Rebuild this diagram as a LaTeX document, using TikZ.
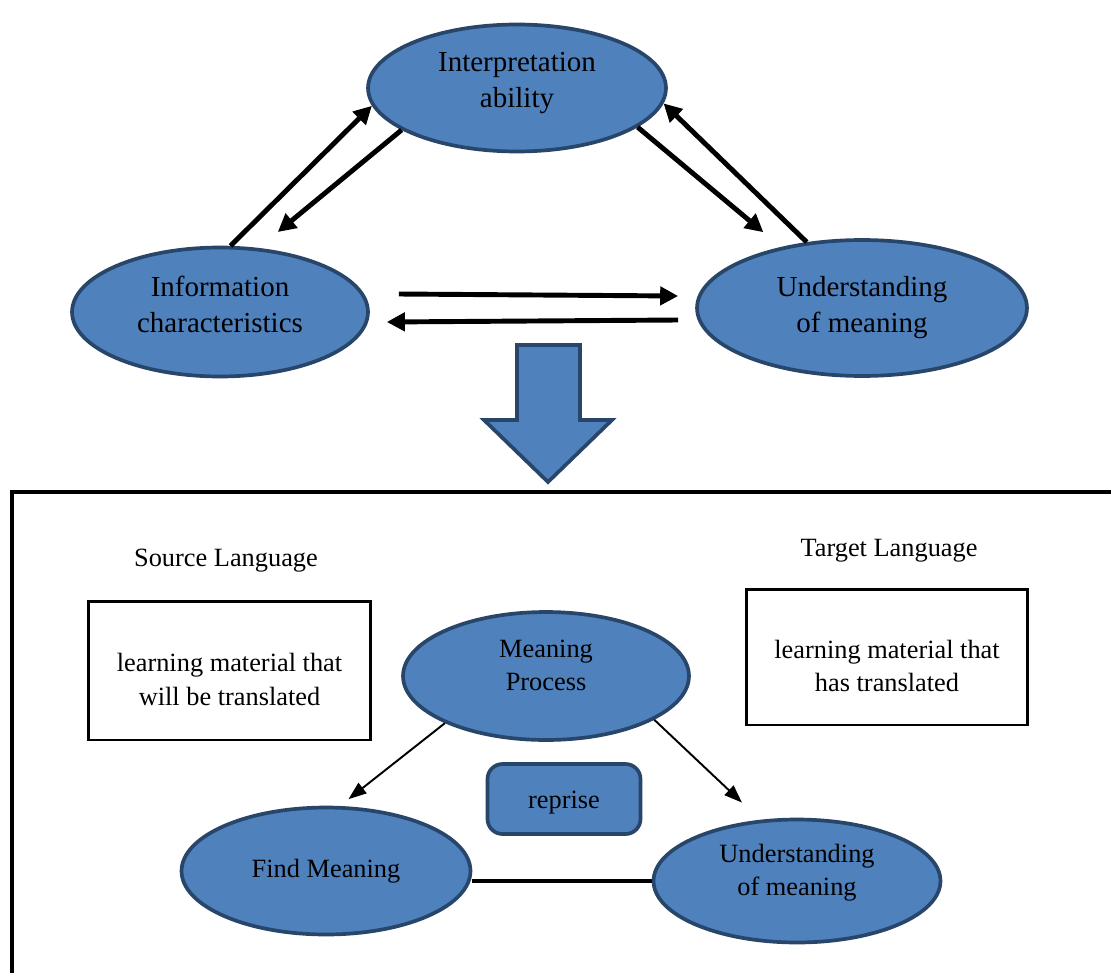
\documentclass[tikz,border=0pt]{standalone}
\usepackage{fontspec}
\setmainfont{Liberation Serif}
\usetikzlibrary{arrows.meta, shapes.geometric}

\definecolor{bubblefill}{HTML}{4F81BD}
\definecolor{bubbleline}{HTML}{28456A}

\begin{document}
\begin{tikzpicture}[
    x=0.02cm, y=-0.02cm,
    every node/.style={font=\fontsize{16.5}{20.5}\selectfont},
    bubble/.style={ellipse, draw=bubbleline, fill=bubblefill, line width=2.1pt, align=center, inner sep=0pt},
    small/.style={font=\fontsize{15}{19}\selectfont},
    textbox/.style={draw, line width=1.7pt, align=center, inner sep=0pt},
    thickarrow/.style={-{Triangle[length=0.36cm,width=0.36cm]}, line width=2.8pt},
    thinarrow/.style={-{Triangle[length=0.36cm,width=0.26cm]}, line width=1.1pt}
]
\useasboundingbox (0,0) rectangle (1111,973);

% upper triangle
\node[bubble, minimum width=5.96cm, minimum height=2.54cm] (interp) at (517,88) {Interpretation\\ability\rule[-0.33cm]{0pt}{0pt}};
\node[bubble, minimum width=5.92cm, minimum height=2.58cm] (info) at (220,312) {Information\\characteristics\rule[-0.32cm]{0pt}{0pt}};
\node[bubble, minimum width=6.6cm, minimum height=2.72cm] (und) at (862,308) {Understanding\\of meaning};

\draw[thickarrow] (info.81) -- (interp.187);
\draw[thickarrow, shorten >=0.5cm] (interp.200) -- (info.59);
\draw[thickarrow, shorten >=0.46cm] (interp.342) -- (und.143);
\draw[thickarrow] (und.130) -- (interp.354);
\draw[thickarrow] ([xshift=0.58cm,yshift=0.36cm]info.east) -- ([xshift=-0.34cm,yshift=0.24cm]und.west);
\draw[thickarrow] ([xshift=-0.34cm,yshift=-0.24cm]und.west) -- ([xshift=0.34cm,yshift=-0.2cm]info.east);

% big arrow down
\draw[draw=bubbleline, fill=bubblefill, line width=2.1pt]
  (517,345) -- (580,345) -- (580,420) -- (612,420) -- (548,482) -- (484,420) -- (517,420) -- cycle;

% frame
\draw[line width=2.8pt] (12,973) -- (12,492) -- (1111,492);

% lower part
\node[small] (src) at (226,561) {Source Language};
\node[small] (tgt) at (889,551) {Target Language};
\node[textbox, small, minimum width=5.66cm, minimum height=2.78cm] (srcbox) at (229.5,670.5) {\rule{0pt}{0.72cm}learning material that\\will be translated};
\node[textbox, small, minimum width=5.64cm, minimum height=2.72cm] (tgtbox) at (887,657) {\rule{0pt}{0.72cm}learning material that\\has translated};

\node[bubble, small, minimum width=5.72cm, minimum height=2.56cm] (mproc) at (546,676) {Meaning\\Process\rule[-0.44cm]{0pt}{0pt}};
\node[bubble, small, minimum width=5.78cm, minimum height=2.54cm] (findm) at (326,871) {Find Meaning};
\node[bubble, small, minimum width=5.74cm, minimum height=2.46cm] (und2) at (797,881) {Understanding\\of meaning\rule[-0.44cm]{0pt}{0pt}};
\node[small, draw=bubbleline, fill=bubblefill, line width=2.1pt, rounded corners=0.3cm,
      minimum width=3.06cm, minimum height=1.4cm] (reprise) at (564,799) {\rule{0pt}{0.5cm}reprise};

\draw[thinarrow, shorten >=0.22cm] (mproc.205) -- (findm.78);
\draw[thinarrow, shorten >=0.5cm] (mproc.338) -- (und2.121);
\draw[line width=2.2pt] (findm.east |- und2.west) -- (und2.west);
\end{tikzpicture}
\end{document}
